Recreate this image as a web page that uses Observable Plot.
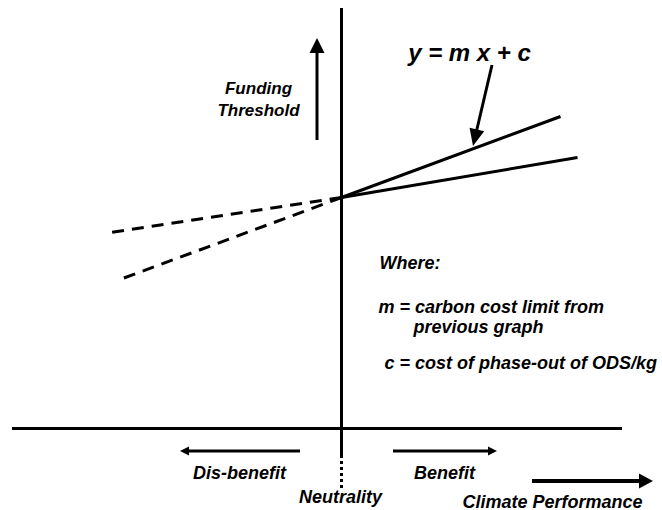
<!DOCTYPE html>
<html>
<head>
<meta charset="utf-8">
<script src="https://cdn.jsdelivr.net/npm/d3@7"></script>
<script src="https://cdn.jsdelivr.net/npm/@observablehq/plot@0.6"></script>
<style>
  body { margin: 0; background: #fff; }
  #chart svg { display: block; }
</style>
</head>
<body>
<div id="chart"></div>
<script>
// Conceptual coordinates: x = climate performance (0 = neutrality), y = funding threshold
const interceptC = 23.1;

const solidLines = [
  {x2: 21.9, y2: 31.2},
  {x2: 23.6, y2: 27.1}
];
const dashedLines = [
  {x2: -23.1, y2: 19.6},
  {x2: -21.9, y2: 15.0}
];

const xAxisExtent = [-32.9, 28.1];
const yAxisSolid = [-2.7, 42.0];
const yAxisDotted = [-6.0, -2.7];

const arrows = [
  {kind: "up",      x1: -2.4, y1: 28.8, x2: -2.4, y2: 39.0},
  {kind: "pointer", x1: 15.1, y1: 36.3, x2: 13.2, y2: 28.2},
  {kind: "small",   x1: -4.1, y1: -2.3, x2: -16.1, y2: -2.3},
  {kind: "small",   x1: 5.2,  y1: -2.3, x2: 15.6, y2: -2.3},
  {kind: "big",     x1: 19.1, y1: -5.3, x2: 31.2, y2: -5.3}
];

const equationLabel = [{label: "y = m x + c", x: 12.8, y: 36.8}];
const yAxisLabel = [{label: "Funding\nThreshold", x: -8.3, y: 31.3}];
const xAxisLabels = [
  {label: "Dis-benefit", x: -10.2, y: -5.0},
  {label: "Benefit", x: 10.3, y: -5.0},
  {label: "Neutrality", x: -0.1, y: -7.4},
  {label: "Climate Performance", x: 21.1, y: -7.9}
];
const notes = [
  {label: "Where:", x: 3.8, y: 16.0},
  {label: "m = carbon cost limit from", x: 3.7, y: 11.6},
  {label: "previous graph", x: 7.2, y: 9.6},
  {label: "c = cost of phase-out of ODS/kg", x: 4.3, y: 6.0}
];

// styles
const headStyle = {
  up: {len: 15, wid: 15, sw: 3},
  pointer: {len: 17, wid: 15, sw: 3},
  small: {len: 9, wid: 9, sw: 3},
  big: {len: 14, wid: 15, sw: 4}
};
const font = "'Liberation Sans', Arial, Helvetica, sans-serif";

function arrowMark(data) {
  return (index, scales) => {
    const {x, y} = scales;
    const g = d3.create("svg:g");
    for (const a of data) {
      const s = headStyle[a.kind];
      const X1 = x(a.x1), Y1 = y(a.y1), X2 = x(a.x2), Y2 = y(a.y2);
      const ang = Math.atan2(Y2 - Y1, X2 - X1);
      const c = Math.cos(ang), sn = Math.sin(ang);
      const bx = X2 - s.len * c, by = Y2 - s.len * sn;
      const ex = X2 - s.len * 0.5 * c, ey = Y2 - s.len * 0.5 * sn;
      g.append("line")
        .attr("x1", X1).attr("y1", Y1).attr("x2", ex).attr("y2", ey)
        .attr("stroke", "black").attr("stroke-width", s.sw);
      const px = -sn * s.wid / 2, py = c * s.wid / 2;
      g.append("path")
        .attr("d", `M${X2},${Y2}L${bx + px},${by + py}L${bx - px},${by - py}Z`)
        .attr("fill", "black");
    }
    return g.node();
  };
}

const textStyle = {fill: "black", fontFamily: font, fontStyle: "italic", fontWeight: "bold", lineAnchor: "bottom"};

const chart = Plot.plot({
  width: 662,
  height: 510,
  margin: 0,
  x: {domain: [-34.1, 32.1], axis: null},
  y: {domain: [-8.2, 42.8], axis: null},
  style: {background: "white", fontFamily: font},
  marks: [
    Plot.ruleY([0], {x1: xAxisExtent[0], x2: xAxisExtent[1], stroke: "black", strokeWidth: 3}),
    Plot.ruleX([0], {y1: yAxisSolid[0], y2: yAxisSolid[1], stroke: "black", strokeWidth: 3}),
    Plot.ruleX([0], {y1: yAxisDotted[0], y2: yAxisDotted[1], stroke: "black", strokeWidth: 3, strokeDasharray: "3,3"}),
    Plot.link(solidLines, {x1: 0, y1: interceptC, x2: "x2", y2: "y2", stroke: "black", strokeWidth: 3}),
    Plot.link(dashedLines, {x1: 0, y1: interceptC, x2: "x2", y2: "y2", stroke: "black", strokeWidth: 3, strokeDasharray: "12,8"}),
    arrowMark(arrows),
    Plot.text(equationLabel, {x: "x", y: "y", text: "label", fontSize: 24, textAnchor: "middle", ...textStyle}),
    Plot.text(yAxisLabel, {x: "x", y: "y", text: "label", fontSize: 17, lineHeight: 1.24, textAnchor: "middle", ...textStyle}),
    Plot.text(xAxisLabels, {x: "x", y: "y", text: "label", fontSize: 18, textAnchor: "middle", ...textStyle}),
    Plot.text(notes, {x: "x", y: "y", text: "label", fontSize: 18, textAnchor: "start", ...textStyle})
  ]
});
document.getElementById("chart").appendChild(chart);
</script>
</body>
</html>
